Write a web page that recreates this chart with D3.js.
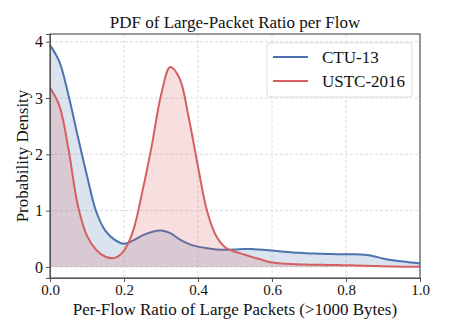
<!DOCTYPE html>
<html>
  <head>
    <meta charset="utf-8">
    <title>PDF of Large-Packet Ratio</title>
    <script src="https://cdn.jsdelivr.net/npm/d3@7"></script>
    <style>
      body { margin: 0; background: #fff; }
      text { font-family: "Liberation Serif", "Times New Roman", serif; fill: #111; }
    </style>
  </head>
  <body>
    <script>
      // ---- data ----
      const xGrid = [0.000, 0.025, 0.050, 0.075, 0.100, 0.125, 0.150, 0.175, 0.200, 0.225,
                     0.250, 0.275, 0.300, 0.325, 0.350, 0.375, 0.400, 0.425, 0.450, 0.475,
                     0.500, 0.525, 0.550, 0.575, 0.600, 0.625, 0.650, 0.675, 0.700, 0.725,
                     0.750, 0.775, 0.800, 0.825, 0.850, 0.875, 0.900, 0.925, 0.950, 0.975, 1.000];

      const ctu13 = [3.94, 3.65, 3.05, 2.32, 1.62, 0.98, 0.64, 0.48, 0.41, 0.47,
                     0.56, 0.62, 0.645, 0.60, 0.49, 0.41, 0.36, 0.33, 0.31, 0.305,
                     0.31, 0.32, 0.315, 0.305, 0.29, 0.275, 0.26, 0.25, 0.24, 0.235,
                     0.23, 0.225, 0.225, 0.225, 0.215, 0.19, 0.15, 0.12, 0.10, 0.08, 0.06];

      const ustc2016 = [3.18, 2.87, 2.09, 1.10, 0.55, 0.30, 0.18, 0.16, 0.29, 0.65,
                        1.35, 2.15, 3.05, 3.55, 3.35, 2.65, 1.78, 0.98, 0.54, 0.34,
                        0.27, 0.22, 0.17, 0.12, 0.08, 0.06, 0.05, 0.045, 0.04, 0.038,
                        0.035, 0.032, 0.03, 0.027, 0.022, 0.018, 0.012, 0.008, 0.005, 0.003, 0.002];

      const seriesNames = ["CTU-13", "USTC-2016"];
      const xTicks = [0, 0.2, 0.4, 0.6, 0.8, 1.0];
      const yTicks = [0, 1, 2, 3, 4];

      const width = 449, height = 336;
      const margin = {left: 50, right: 29, top: 34, bottom: 58};
      const colors = ["#4c72b0", "#d65f5f"];

      const svg = d3.select("body").append("svg")
        .attr("width", width)
        .attr("height", height);

      const x = d3.scaleLinear().domain([0, 1]).range([margin.left, width - margin.right]);
      const y = d3.scaleLinear().domain([-0.197, 4.137]).range([height - margin.bottom, margin.top]);

      // grid
      const grid = svg.append("g");
      grid.selectAll(".gx").data(xTicks).enter().append("line")
        .attr("x1", d => x(d)).attr("x2", d => x(d))
        .attr("y1", y.range()[0]).attr("y2", y.range()[1])
        .attr("stroke", "#d3d3d3").attr("stroke-width", 0.8).attr("stroke-dasharray", "3,2");
      grid.selectAll(".gy").data(yTicks).enter().append("line")
        .attr("x1", x.range()[0]).attr("x2", x.range()[1])
        .attr("y1", d => y(d)).attr("y2", d => y(d))
        .attr("stroke", "#d3d3d3").attr("stroke-width", 0.8).attr("stroke-dasharray", "3,2");

      const series = [ctu13, ustc2016];

      const area = d3.area()
        .x((d, i) => x(xGrid[i]))
        .y0(y(0))
        .y1(d => y(d))
        .curve(d3.curveCatmullRom);

      const line = d3.line()
        .x((d, i) => x(xGrid[i]))
        .y(d => y(d))
        .curve(d3.curveCatmullRom);

      const plot = svg.append("g");
      series.forEach(function(vals, k) {
        plot.append("path")
          .attr("d", area(vals))
          .attr("fill", colors[k])
          .attr("fill-opacity", 0.2);
        plot.append("path")
          .attr("d", line(vals))
          .attr("fill", "none")
          .attr("stroke", colors[k])
          .attr("stroke-width", 2);
      });

      // axes
      const xAxis = d3.axisBottom(x).tickValues(xTicks).tickFormat(d3.format(".1f")).tickSize(4).tickPadding(2);
      const yAxis = d3.axisLeft(y).tickValues(yTicks).tickFormat(d3.format("d")).tickSize(4).tickPadding(3);

      svg.append("g")
        .attr("transform", "translate(0," + (height - margin.bottom) + ")")
        .call(xAxis)
        .call(g => g.selectAll("text").attr("font-size", 15).style("font-family", "Liberation Serif"))
        .call(g => g.selectAll("line, path").attr("stroke", "#555"));

      svg.append("g")
        .attr("transform", "translate(" + margin.left + ",0)")
        .call(yAxis)
        .call(g => g.selectAll("text").attr("font-size", 16).style("font-family", "Liberation Serif"))
        .call(g => g.selectAll("line, path").attr("stroke", "#555"));

      // frame
      svg.append("rect")
        .attr("x", x.range()[0]).attr("y", y.range()[1])
        .attr("width", x.range()[1] - x.range()[0])
        .attr("height", y.range()[0] - y.range()[1])
        .attr("fill", "none").attr("stroke", "#555").attr("stroke-width", 1.2);

      // titles
      svg.append("text")
        .attr("x", (x.range()[0] + x.range()[1]) / 2).attr("y", 28)
        .attr("text-anchor", "middle").attr("font-size", 17)
        .text("PDF of Large-Packet Ratio per Flow");

      svg.append("text")
        .attr("x", (x.range()[0] + x.range()[1]) / 2).attr("y", 315)
        .attr("text-anchor", "middle").attr("font-size", 17)
        .text("Per-Flow Ratio of Large Packets (>1000 Bytes)");

      svg.append("text")
        .attr("transform", "translate(28," + ((y.range()[0] + y.range()[1]) / 2) + ") rotate(-90)")
        .attr("text-anchor", "middle").attr("font-size", 17)
        .text("Probability Density");

      // legend
      const legend = svg.append("g").attr("transform", "translate(267,43)");
      legend.append("rect")
        .attr("width", 145).attr("height", 54).attr("rx", 3)
        .attr("fill", "#fff").attr("fill-opacity", 0.8)
        .attr("stroke", "#ddd").attr("stroke-width", 1);
      seriesNames.forEach(function(name, k) {
        legend.append("line")
          .attr("x1", 6).attr("x2", 41)
          .attr("y1", 14 + k * 24).attr("y2", 14 + k * 24)
          .attr("stroke", colors[k]).attr("stroke-width", 2);
        legend.append("text")
          .attr("x", 55).attr("y", 20 + k * 24)
          .attr("font-size", 17)
          .text(name);
      });
    </script>
  </body>
</html>
